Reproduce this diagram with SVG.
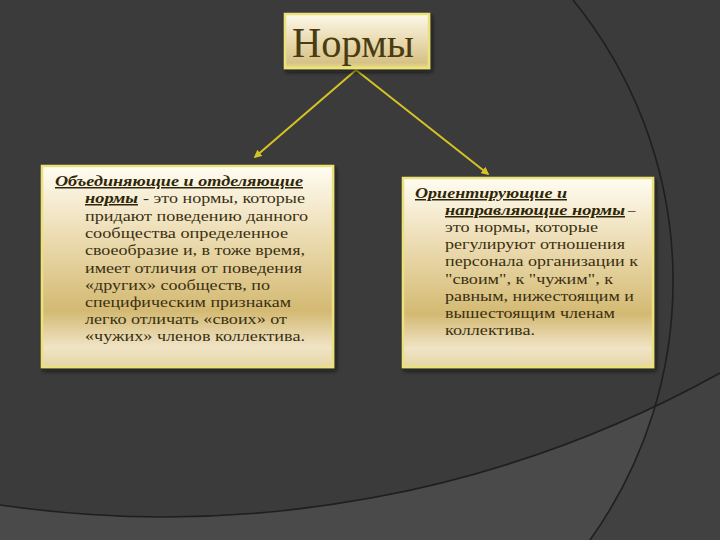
<svg xmlns="http://www.w3.org/2000/svg" width="720" height="540" viewBox="0 0 720 540">
<defs>
<style>
.arc{fill:none;stroke:#1f1f1f;stroke-width:1.6}
.box{stroke:#ece27a;stroke-width:2.5}
.body{font-size:15px;fill:#3a3012}
.head{font-size:15px;font-weight:bold;font-style:italic;fill:#2e2608;text-decoration:underline}
.title{font-size:42px;fill:#4a3c12}
.conn{stroke:#d6c424;stroke-width:2;fill:none}
</style>
<linearGradient id="gBox" x1="0" y1="0" x2="0" y2="1">
<stop offset="0" stop-color="#fffcf2"/>
<stop offset="0.35" stop-color="#ecdcb2"/>
<stop offset="0.72" stop-color="#d3b972"/>
<stop offset="0.9" stop-color="#f0e4c6"/>
<stop offset="1" stop-color="#e6d6a6"/>
</linearGradient>
<linearGradient id="gTitle" x1="0" y1="0" x2="0" y2="1">
<stop offset="0" stop-color="#fdf8ea"/>
<stop offset="0.5" stop-color="#e9dab0"/>
<stop offset="0.9" stop-color="#d6c288"/>
<stop offset="1" stop-color="#e8dc80"/>
</linearGradient>
<filter id="sh" x="-10%" y="-10%" width="120%" height="125%">
<feDropShadow dx="2" dy="3" stdDeviation="2" flood-color="#111" flood-opacity="0.7"/>
</filter>
<marker id="ah" viewBox="0 0 10 10" refX="8" refY="5" markerWidth="4" markerHeight="4" orient="auto">
<path d="M0,0 L10,5 L0,10 z" fill="#d6c424"/>
</marker>
<clipPath id="below"><path d="M0,505 A1145,1145 0 0 0 720,373 L720,540 L0,540 z"/></clipPath>
</defs>
<rect width="720" height="540" fill="#3b3b3b"/>
<g id="background">
<g clip-path="url(#below)">
<rect x="0" y="300" width="720" height="240" fill="#4a4a4a"/>
<path d="M590,540 A445,445 0 0 0 657,400 L720,300 L720,540 z" fill="#414141"/>
</g>
<path class="arc" d="M573,0 A445,445 0 0 1 590,540"/>
<path class="arc" d="M0,505 A1145,1145 0 0 0 720,373"/>
</g>
<g id="connectors">
<line class="conn" x1="356" y1="70" x2="255" y2="157" marker-end="url(#ah)"/>
<line class="conn" x1="356" y1="70" x2="488" y2="174" marker-end="url(#ah)"/>
</g>
<g font-family="'Liberation Serif', 'DejaVu Serif', 'Times New Roman', serif">
<g id="title">
<rect x="285" y="14" width="144" height="54" fill="url(#gTitle)" class="box" filter="url(#sh)"/>
<text class="title" x="292" y="57" textLength="122" lengthAdjust="spacingAndGlyphs">Нормы</text>
</g>
<g id="left">
<rect x="42" y="166" width="291" height="201" fill="url(#gBox)" class="box" filter="url(#sh)"/>
<text class="head" x="55" y="186" textLength="248" lengthAdjust="spacingAndGlyphs">Объединяющие и отделяющие</text>
<text class="head" x="85" y="203" textLength="53" lengthAdjust="spacingAndGlyphs">нормы </text>
<text class="body" x="143" y="203" textLength="162" lengthAdjust="spacingAndGlyphs">- это нормы, которые</text>
<text class="body" x="85" y="221" textLength="223" lengthAdjust="spacingAndGlyphs">придают поведению данного</text>
<text class="body" x="85" y="238" textLength="203" lengthAdjust="spacingAndGlyphs">сообщества  определенное</text>
<text class="body" x="85" y="255" textLength="220" lengthAdjust="spacingAndGlyphs">своеобразие и, в тоже время,</text>
<text class="body" x="85" y="273" textLength="217" lengthAdjust="spacingAndGlyphs">имеет отличия от поведения</text>
<text class="body" x="85" y="290" textLength="185" lengthAdjust="spacingAndGlyphs">«других» сообществ, по</text>
<text class="body" x="85" y="307" textLength="206" lengthAdjust="spacingAndGlyphs">специфическим признакам</text>
<text class="body" x="85" y="324" textLength="202" lengthAdjust="spacingAndGlyphs">легко отличать «своих» от</text>
<text class="body" x="85" y="341" textLength="220" lengthAdjust="spacingAndGlyphs">«чужих»  членов коллектива.</text>
</g>
<g id="right">
<rect x="403" y="178" width="250" height="189" fill="url(#gBox)" class="box" filter="url(#sh)"/>
<text class="head" x="415" y="198" textLength="152" lengthAdjust="spacingAndGlyphs">Ориентирующие и</text>
<text class="head" x="445" y="215" textLength="180" lengthAdjust="spacingAndGlyphs">направляющие нормы </text>
<text class="body" x="628" y="215">–</text>
<text class="body" x="445" y="232" textLength="153" lengthAdjust="spacingAndGlyphs">это нормы, которые</text>
<text class="body" x="445" y="249" textLength="180" lengthAdjust="spacingAndGlyphs">регулируют отношения</text>
<text class="body" x="445" y="266" textLength="193" lengthAdjust="spacingAndGlyphs">персонала организации к</text>
<text class="body" x="445" y="284" textLength="168" lengthAdjust="spacingAndGlyphs">"своим", к "чужим", к</text>
<text class="body" x="445" y="301" textLength="189" lengthAdjust="spacingAndGlyphs">равным, нижестоящим и</text>
<text class="body" x="445" y="318" textLength="170" lengthAdjust="spacingAndGlyphs">вышестоящим членам</text>
<text class="body" x="445" y="335" textLength="90" lengthAdjust="spacingAndGlyphs">коллектива.</text>
</g>
</g>
</svg>
